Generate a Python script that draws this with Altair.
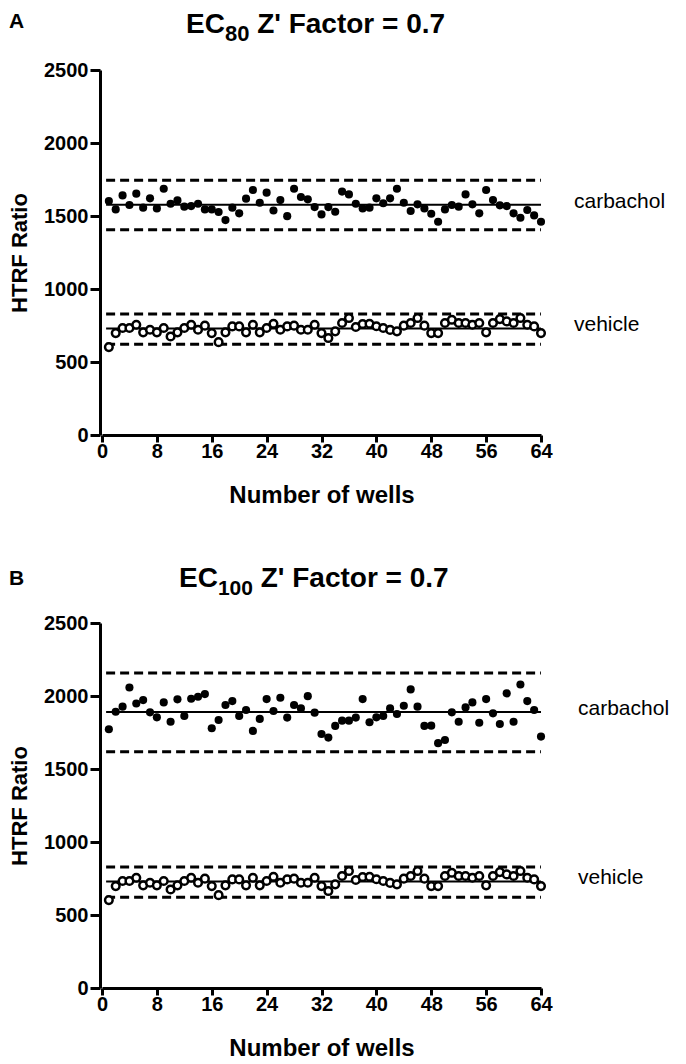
import altair as alt
import pandas as pd

FONT = "Liberation Sans, Arial, Helvetica, sans-serif"

# ---------------- data ----------------
wells = list(range(1, 65))

carbachol_A = [1602, 1545, 1641, 1575, 1653, 1557, 1621, 1552, 1687, 1584,
               1607, 1564, 1568, 1584, 1545, 1545, 1527, 1472, 1557, 1518,
               1619, 1678, 1591, 1660, 1538, 1609, 1499, 1687, 1630, 1614,
               1561, 1511, 1561, 1529, 1667, 1648, 1584, 1552, 1557, 1621,
               1587, 1621, 1687, 1591, 1534, 1580, 1552, 1515, 1461, 1545,
               1575, 1564, 1648, 1580, 1518, 1678, 1609, 1573, 1568, 1518,
               1488, 1541, 1504, 1461]

carbachol_B = [1772, 1892, 1927, 2058, 1949, 1972, 1888, 1854, 1956, 1824,
               1977, 1863, 1981, 1995, 2013, 1779, 1836, 1938, 1965, 1863,
               1904, 1761, 1843, 1979, 1897, 1988, 1852, 1938, 1915, 1999,
               1886, 1740, 1715, 1795, 1831, 1831, 1852, 1979, 1820, 1854,
               1863, 1915, 1877, 1933, 2045, 1927, 1795, 1797, 1677, 1699,
               1888, 1824, 1922, 1956, 1817, 1979, 1881, 1808, 2018, 1824,
               2079, 1965, 1904, 1722]

vehicle = [602, 698, 733, 733, 755, 703, 721, 703, 733, 675,
           703, 733, 755, 721, 749, 698, 636, 703, 744, 744,
           703, 755, 703, 733, 762, 721, 744, 749, 721, 721,
           755, 698, 664, 710, 767, 801, 740, 760, 762, 745,
           733, 720, 710, 749, 767, 801, 749, 698, 698, 767,
           789, 767, 767, 755, 767, 703, 767, 794, 778, 767,
           801, 755, 744, 698]

series_names = ["carbachol", "vehicle"]
mean_A = [1577, 730]
upper_A = [1745, 828]
lower_A = [1405, 622]
mean_B = [1890, 730]
upper_B = [2158, 828]
lower_B = [1618, 622]
line_start = 0.6
line_end = 64

x_ticks = [0, 8, 16, 24, 32, 40, 48, 56, 64]
y_ticks = [0, 500, 1000, 1500, 2000, 2500]
x_domain = [0, 64]
y_domain = [0, 2500]

panel_letters = ["A", "B"]
title_head = "EC"
title_subs = ["80", "100"]
title_tail = "Z' Factor = 0.7"
x_title = "Number of wells"
y_title = "HTRF Ratio"

W, H = 439, 365


def text_layer(txt, x, y, size, weight="bold", align="left", baseline="alphabetic"):
    return alt.Chart(pd.DataFrame({"t": [txt]})).mark_text(
        font=FONT, fontSize=size, fontWeight=weight, align=align,
        baseline=baseline, color="black"
    ).encode(x=alt.value(x), y=alt.value(y), text="t:N")


def panel(carb, means, uppers, lowers, letter, sub, g):
    pts = pd.DataFrame({
        "well": wells * 2,
        "ratio": carb + vehicle,
        "series": ["carbachol"] * 64 + ["vehicle"] * 64,
    })
    lines = pd.DataFrame({
        "series": series_names * 3,
        "ratio": means + uppers + lowers,
        "kind": ["mean"] * 2 + ["sd"] * 4,
        "x0": [line_start] * 6,
        "x1": [line_end] * 6,
    })
    labels = pd.DataFrame({"series": series_names, "ratio": means})

    xs = alt.Scale(domain=x_domain, nice=False, zero=True)
    ys = alt.Scale(domain=y_domain, nice=False)
    xax = alt.Axis(values=x_ticks, title=x_title, tickSize=7, labelPadding=-1,
                   titleFontSize=24, titleBaseline="alphabetic", titleY=67,
                   labelFlush=False, format="d")
    yax = alt.Axis(values=y_ticks, title=y_title, tickSize=10, labelPadding=2,
                   offset=2, titleFontSize=22, titleX=-68.5, format="d")

    def X(f):
        return alt.X(f, scale=xs, axis=xax, title=x_title)

    def Y(f):
        return alt.Y(f, scale=ys, axis=yax, title=y_title)

    mean_rule = alt.Chart(lines).transform_filter("datum.kind == 'mean'").mark_rule(
        color="black", strokeWidth=2
    ).encode(x=X("x0:Q"), x2="x1:Q", y=Y("ratio:Q"))
    sd_rule = alt.Chart(lines).transform_filter("datum.kind == 'sd'").mark_rule(
        color="black", strokeWidth=3, strokeDash=[9, 5]
    ).encode(x=X("x0:Q"), x2="x1:Q", y=Y("ratio:Q"))
    veh_pts = alt.Chart(pts).transform_filter("datum.series == 'vehicle'").mark_point(
        shape="circle", fill="white", fillOpacity=1, stroke="black",
        strokeWidth=2.5, size=58, opacity=1
    ).encode(x=X("well:Q"), y=Y("ratio:Q"))
    carb_pts = alt.Chart(pts).transform_filter("datum.series == 'carbachol'").mark_circle(
        color="black", size=66, opacity=1
    ).encode(x=X("well:Q"), y=Y("ratio:Q"))
    lab = alt.Chart(labels).mark_text(
        font=FONT, fontSize=21, align="left", baseline="middle", dy=-3, color="black"
    ).encode(x=alt.value(g["lx"]), y=Y("ratio:Q"), text="series:N")

    head_x = g["tx"]
    sub_x = head_x + 1.389 * 28
    tail_x = sub_x + 0.556 * g["ss"] * len(sub) + 0.278 * 28
    layers = [
        sd_rule, mean_rule, veh_pts, carb_pts, lab,
        text_layer(letter, -93, g["ly"], 21),
        text_layer(title_head, head_x, g["ty"], 28),
        text_layer(sub, sub_x, g["ty"] + 8, g["ss"]),
        text_layer(title_tail, tail_x, g["ty"], 28),
    ]
    return alt.layer(*layers).properties(width=W, height=H)


pA = panel(carbachol_A, mean_A, upper_A, lower_A, panel_letters[0], title_subs[0],
           {"lx": 472, "tx": 84, "ty": -37, "ly": -42, "ss": 22})
pB = panel(carbachol_B, mean_B, upper_B, lower_B, panel_letters[1], title_subs[1],
           {"lx": 476, "tx": 77, "ty": -36, "ly": -38, "ss": 21})

chart = alt.vconcat(pA, pB, spacing=58).properties(
    padding={"left": 0, "top": 3, "right": 0, "bottom": 0}
).configure_view(stroke=None).configure_axis(
    domainColor="black", domainWidth=3, tickColor="black", tickWidth=3,
    labelColor="black", titleColor="black", labelFont=FONT, titleFont=FONT,
    labelFontSize=20, labelFontWeight="bold", titleFontWeight="bold", grid=False,
)

chart.save("out.html", embed_options={"renderer": "svg", "actions": False})
